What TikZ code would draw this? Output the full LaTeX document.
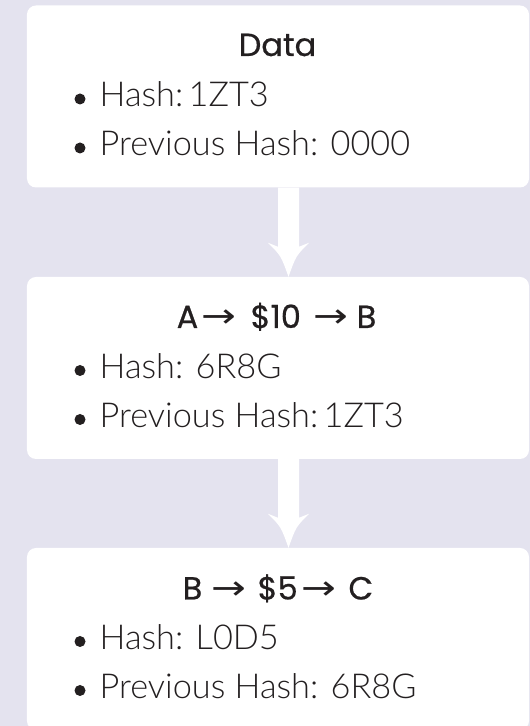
\documentclass[tikz,border=0pt]{standalone}
\usepackage{fontspec}
\usepackage{graphicx}
\setmainfont{Lato}
\newfontfamily\lightf{Lato Light}
\newfontfamily\headf[FakeBold=0.6]{Poppins}
\newfontfamily\arrowf{DejaVu Sans}
\usetikzlibrary{calc}
\definecolor{bgcol}{RGB}{228,227,239}
\definecolor{ink}{RGB}{35,31,32}
\newcommand{\harrow}{\scalebox{1.3}[1.05]{\arrowf →}}
\tikzset{
  blockbox/.style={fill=white, rounded corners=9bp, minimum width=502bp, minimum height=182bp, inner sep=0pt},
  headtext/.style={text=ink, font=\headf\fontsize{32bp}{36bp}\selectfont, inner sep=0pt},
  bodytext/.style={text=ink, font=\lightf\fontsize{34.3bp}{40bp}\selectfont, anchor=base west, inner sep=0pt},
  bulletdot/.style={circle, fill=ink, minimum size=11bp, inner sep=0pt},
  arrowfill/.style={fill=white}
}
\newcommand{\blockarrow}[2]{%
  \fill[arrowfill] let \p1=($(#1.south)+(10.5bp,0)$), \p2=($(#2.north)+(10.5bp,0)$) in
    (\x1-10.5bp,\y1) -- (\x1-10.5bp,\y2+30bp) -- (\x1-20.5bp,\y2+34bp)
    .. controls (\x1-7.5bp,\y2+21bp) .. (\x2,\y2)
    .. controls (\x1+7.5bp,\y2+21bp) .. (\x1+20.5bp,\y2+34bp)
    -- (\x1+10.5bp,\y2+30bp) -- (\x1+10.5bp,\y1) -- cycle;}
\begin{document}
\begin{tikzpicture}[x=1bp,y=1bp]
\useasboundingbox (0,0) rectangle (530,726);
\fill[bgcol] (0,0) rectangle (530,726);
% boxes
\node[blockbox] (b1) at (278,629.5) {};
\node[blockbox] (b2) at (278,358) {};
\node[blockbox] (b3) at (278,87) {};
% connectors
\blockarrow{b1}{b2}
\blockarrow{b2}{b3}
% box 1
\node[headtext, anchor=base] (h1) at (277.5,670) {Data};
\node[bulletdot] (d1a) at (80,627) {};
\node[bodytext] (t1a) at (99.5,619) {Hash: \kern-7bp1ZT3};
\node[bulletdot] (d1b) at (80,578) {};
\node[bodytext] (t1b) at (99.5,570) {Previous Hash: 0000};
% box 2
\node[headtext, anchor=base west] (h2) at (176.5,398) {\makebox[25.2bp][l]{A}\makebox[48.8bp][l]{\harrow}\makebox[63.2bp][l]{\$10}\makebox[42.8bp][l]{\harrow}B};
\node[bulletdot] (d2a) at (80,355.5) {};
\node[bodytext] (t2a) at (99.5,347.5) {Hash: 6R8G};
\node[bulletdot] (d2b) at (80,306.5) {};
\node[bodytext] (t2b) at (99.5,298.5) {Previous Hash: \kern-7bp1ZT3};
% box 3
\node[headtext, anchor=base west] (h3) at (182.5,126.5) {\makebox[29.2bp][l]{B}\makebox[45.8bp][l]{\harrow}\makebox[44bp][l]{\$5}\makebox[46.8bp][l]{\harrow}C};
\node[bulletdot] (d3a) at (80,84.5) {};
\node[bodytext] (t3a) at (99.5,76.5) {Hash: L0D5};
\node[bulletdot] (d3b) at (80,35.5) {};
\node[bodytext] (t3b) at (99.5,27.5) {Previous Hash: 6R8G};
\end{tikzpicture}
\end{document}
